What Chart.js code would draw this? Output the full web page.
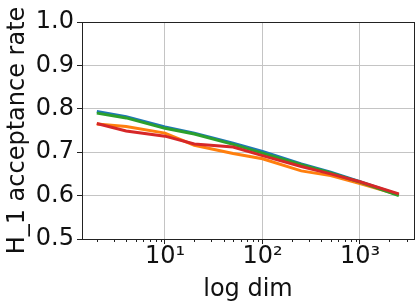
<!DOCTYPE html>
<html>
<head>
<meta charset="utf-8">
<script src="https://cdn.jsdelivr.net/npm/chart.js@4/dist/chart.umd.min.js"></script>
<style>
  html, body { margin: 0; padding: 0; background: #fff; }
  #wrap { width: 420px; height: 307px; }
</style>
</head>
<body>
<div id="wrap"><canvas id="accChart" width="420" height="307"></canvas></div>
<script>
// values
const dims = [2, 4, 10, 20, 50, 100, 250, 500, 1000, 2500];
const blueRate = [0.794, 0.782, 0.758, 0.744, 0.721, 0.702, 0.673, 0.654, 0.632, 0.602];
const orangeRate = [0.765, 0.759, 0.744, 0.716, 0.697, 0.685, 0.657, 0.646, 0.628, 0.602];
const greenRate = [0.790, 0.779, 0.755, 0.742, 0.718, 0.698, 0.671, 0.652, 0.631, 0.600];
const redRate = [0.766, 0.749, 0.737, 0.719, 0.712, 0.692, 0.667, 0.650, 0.632, 0.604];
const yTicks = [0.5, 0.6, 0.7, 0.8, 0.9, 1.0];

const supers = { '1': '\u00b9', '2': '\u00b2', '3': '\u00b3' };

function isDecade(v) {
    const e = Math.log10(v);
    return Math.abs(e - Math.round(e)) < 1e-9;
}

function isMinor(v) {
    const e = Math.floor(Math.log10(v) + 1e-9);
    const s = v / Math.pow(10, e);
    return Math.abs(s - Math.round(s)) < 1e-9 && Math.round(s) > 1;
}

function series(vals) {
    return dims.map((d, i) => ({ x: d, y: vals[i] }));
}

// box around plot + minor x ticks
const framePlugin = {
    id: 'frame',
    afterDraw(chart) {
        const c = chart.ctx;
        const a = chart.chartArea;
        const xs = chart.scales.x;
        c.save();
        c.strokeStyle = '#222';
        c.lineWidth = 1;
        c.beginPath();
        xs.ticks.forEach(t => {
            if (!isMinor(t.value)) return;
            const px = Math.round(xs.getPixelForValue(t.value)) + 0.5;
            if (px < a.left || px > a.right) return;
            c.moveTo(px, a.bottom);
            c.lineTo(px, a.bottom + 3);
        });
        c.stroke();
        c.strokeRect(Math.round(a.left) + 0.5, Math.round(a.top) + 0.5,
            Math.round(a.right - a.left), Math.round(a.bottom - a.top));
        c.restore();
    }
};

const ctx = document.getElementById('accChart').getContext('2d');
const accChart = new Chart(ctx, {
    type: 'line',
    data: {
        datasets: [
            { label: 'red', data: series(redRate), borderColor: '#d62728' },
            { label: 'green', data: series(greenRate), borderColor: '#2ca02c' },
            { label: 'orange', data: series(orangeRate), borderColor: '#ff7f0e' },
            { label: 'blue', data: series(blueRate), borderColor: '#1f77b4' }
        ]
    },
    options: {
        responsive: false,
        animation: false,
        devicePixelRatio: 1,
        layout: { padding: { left: 0, right: 6, top: 22, bottom: 0 } },
        elements: {
            line: { borderWidth: 3, tension: 0, fill: false },
            point: { radius: 0 }
        },
        plugins: { legend: { display: false }, tooltip: { enabled: false } },
        scales: {
            x: {
                type: 'logarithmic',
                min: 1.41,
                max: 3580,
                afterFit: s => { s.height = 68; },
                border: { display: false },
                grid: {
                    color: c => (c.tick && isDecade(c.tick.value)) ? '#c4c4c4' : 'rgba(0,0,0,0)',
                    tickColor: c => (c.tick && isDecade(c.tick.value)) ? '#222' : 'rgba(0,0,0,0)',
                    tickLength: 5,
                    lineWidth: 1
                },
                ticks: {
                    autoSkip: false,
                    maxRotation: 0,
                    padding: -2,
                    color: '#111',
                    font: { family: 'DejaVu Sans', size: 24 },
                    callback: v => isDecade(v) ? '10' + (supers[String(Math.round(Math.log10(v)))] || '') : ''
                },
                title: {
                    display: true,
                    text: 'log dim',
                    color: '#111',
                    font: { family: 'DejaVu Sans', size: 24 },
                    padding: { top: 0, bottom: 3 }
                }
            },
            y: {
                min: 0.5,
                max: 1.0,
                afterFit: s => { s.width = 82; },
                afterBuildTicks: s => { s.ticks = yTicks.map(v => ({ value: v })); },
                border: { display: false },
                grid: {
                    color: '#c4c4c4',
                    tickColor: '#222',
                    tickLength: 5,
                    lineWidth: 1
                },
                ticks: {
                    padding: 3,
                    color: '#111',
                    font: { family: 'DejaVu Sans', size: 24 },
                    callback: v => v.toFixed(1)
                },
                title: {
                    display: true,
                    text: 'H_1 acceptance rate',
                    color: '#111',
                    font: { family: 'DejaVu Sans', size: 24 },
                    padding: { top: 3, bottom: 0 }
                }
            }
        }
    },
    plugins: [framePlugin]
});
</script>
</body>
</html>
